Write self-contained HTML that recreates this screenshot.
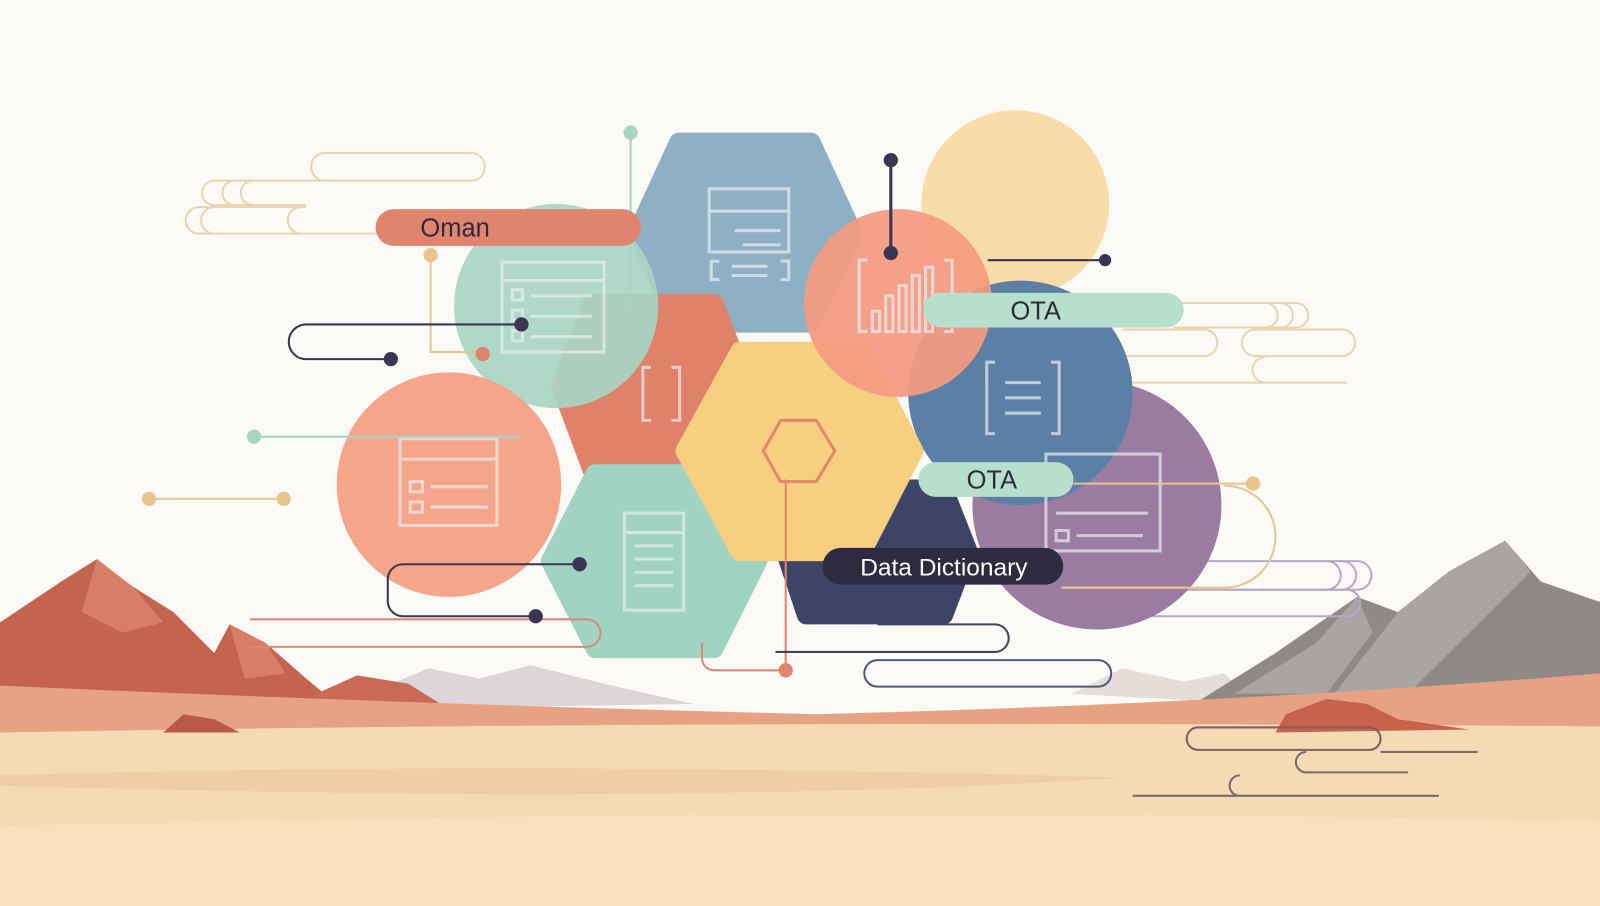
<!DOCTYPE html>
<html><head><meta charset="utf-8"><style>
html,body{margin:0;padding:0;background:#fbfaf7;}
svg{display:block}
text{font-family:"Liberation Sans",sans-serif;}
.hx{stroke-linejoin:round;stroke-width:18}
</style></head><body>
<svg width="1600" height="906" viewBox="0 0 1568 888" preserveAspectRatio="none" xmlns="http://www.w3.org/2000/svg">
<rect width="1568" height="888" fill="#fbfaf7"/>
<path d="M360 680 L420 655 L470 665 L520 652 L600 672 L680 690 L360 695Z" fill="#dcd5da"/>
<path d="M1050 680 L1100 655 L1160 668 L1200 660 L1230 690Z" fill="#e6ddd8"/>
<path d="M0 610 L60 570 L95 548 L130 575 L170 600 L210 640 L225 612 L260 630 L300 665 L330 690 L0 700Z" fill="#c4644f"/>
<path d="M95 548 L130 575 L160 610 L120 620 L80 600Z" fill="#d97e66"/>
<path d="M225 612 L260 630 L280 660 L240 665Z" fill="#d97e66"/>
<path d="M310 680 L350 662 L400 670 L440 695 L300 700Z" fill="#c86a55"/>
<path d="M1170 690 L1250 640 L1330 585 L1370 600 L1420 560 L1475 530 L1510 570 L1568 590 L1568 700Z" fill="#8f8a87"/>
<path d="M1370 600 L1420 560 L1475 530 L1500 560 L1440 620 L1380 680 L1300 690Z" fill="#a9a5a2"/>
<path d="M1210 680 L1290 630 L1330 585 L1345 620 L1300 680Z" fill="#a9a5a2"/>
<path d="M0 672 Q400 690 800 700 Q1200 690 1568 660 L1568 888 L0 888Z" fill="#e7a283"/>
<path d="M0 718 Q700 705 1568 712 L1568 888 L0 888Z" fill="#f5dbb5"/>
<path d="M0 760 Q500 745 1100 762 Q700 790 0 770Z" fill="#edc9a0" opacity=".7"/>
<path d="M0 810 Q800 790 1568 805 L1568 888 L0 888Z" fill="#f7e0bb"/>
<path d="M1260 700 L1300 685 L1340 690 L1370 705 L1440 715 L1250 718Z" fill="#c8624d"/>
<path d="M160 718 L180 700 L210 705 L235 718Z" fill="#b9594a"/>
<g fill="none" stroke="#edd2ad" stroke-width="2">
<rect x="305" y="150" width="170" height="27" rx="13"/>
<path d="M330 177 H210 a12 12 0 0 0 0 24 H300"/>
<path d="M230 177 a12 12 0 0 0 0 24"/><path d="M248 177 a12 12 0 0 0 0 24"/>
<path d="M300 203 H195 a13 13 0 0 0 0 26 H380"/>
<path d="M295 203 a13 13 0 0 0 0 26"/><path d="M210 203 a13 13 0 0 0 0 26"/>
</g>
<g fill="none" stroke="#edd2ad" stroke-width="2">
<path d="M1150 297 H1270 a12 12 0 0 1 0 24 H1150"/>
<path d="M1255 297 a12 12 0 0 1 0 24"/><path d="M1240 297 a12 12 0 0 1 0 24"/>
<path d="M1100 323 H1180 a13 13 0 0 1 0 26 H1100"/>
<path d="M1230 323 a13 13 0 0 0 0 26 H1315 a13 13 0 0 0 0 -26Z"/>
<path d="M1240 350 a12 12 0 0 0 0 25 H1320"/>
<path d="M1110 375 H1320"/>
</g>
<g fill="none" stroke="#b8a8c8" stroke-width="2">
<path d="M1160 550 H1330 a14 14 0 0 1 0 28 H1200"/>
<path d="M1300 550 a14 14 0 0 1 0 28"/><path d="M1315 550 a14 14 0 0 1 0 28"/>
<path d="M1080 578 H1320 a13 13 0 0 1 0 26 H1080 a13 13 0 0 1 0 -26"/>
</g>
<polygon class="hx" points="665,139 795,139 836,228 795,317 665,317 624,228" fill="#8fb0c3" stroke="#8fb0c3"/>
<polygon class="hx" points="580,297 700,297 731,378 700,461 580,461 549,378" fill="#e0826a" stroke="#e0826a"/>
<circle cx="545" cy="300" r="100" fill="#a8d5c3" opacity=".92"/>
<circle cx="440" cy="475" r="110" fill="#f4a58a"/>
<polygon class="hx" points="583,464 700,464 743,550 700,636 583,636 539,550" fill="#a1d3c2" stroke="#a1d3c2"/>
<circle cx="995" cy="200" r="92" fill="#f8dcaa"/>
<circle cx="1075" cy="495" r="122" fill="#9a7ca0"/>
<circle cx="1000" cy="385" r="110" fill="#5c7fa5"/>
<polygon class="hx" points="790,479 925,479 949,540 925,603 790,603 769,540" fill="#3e4466" stroke="#3e4466"/>
<polygon class="hx" points="725,344 845,344 896,442 845,541 725,541 671,442" fill="#f7cf80" stroke="#f7cf80"/>
<circle cx="880" cy="297" r="92" fill="#f49a80" opacity=".93"/>
<g fill="none" stroke="#e9eef2" stroke-width="3" opacity=".7">
<rect x="695" y="185" width="78" height="62"/><line x1="695" y1="207" x2="773" y2="207"/><line x1="720" y1="226" x2="765" y2="226"/><line x1="728" y1="240" x2="765" y2="240"/>
<path d="M705 256 h-8 v18 h8 M765 256 h8 v18 h-8 M717 261 h35 M717 270 h35"/>
<rect x="492" y="257" width="100" height="88"/><line x1="492" y1="275" x2="592" y2="275"/><rect x="502" y="284" width="10" height="10"/><line x1="520" y1="290" x2="580" y2="290"/><rect x="502" y="304" width="10" height="10"/><line x1="520" y1="310" x2="580" y2="310"/><rect x="502" y="324" width="10" height="10"/><line x1="520" y1="330" x2="580" y2="330"/>
<rect x="392" y="430" width="95" height="85"/><line x1="392" y1="450" x2="487" y2="450"/><rect x="402" y="472" width="12" height="10"/><line x1="422" y1="477" x2="478" y2="477"/><rect x="402" y="492" width="12" height="10"/><line x1="422" y1="497" x2="478" y2="497"/>
<rect x="612" y="503" width="58" height="95"/><line x1="612" y1="522" x2="670" y2="522"/><line x1="622" y1="535" x2="660" y2="535"/><line x1="622" y1="548" x2="660" y2="548"/><line x1="622" y1="561" x2="660" y2="561"/><line x1="622" y1="574" x2="660" y2="574"/>
<path d="M638 360 h-8 v52 h8 M658 360 h8 v52 h-8"/>
<path d="M850 255 h-8 v70 h8 M925 255 h8 v70 h-8"/>
<rect x="855" y="305" width="7" height="20"/><rect x="868" y="290" width="7" height="35"/><rect x="881" y="280" width="7" height="45"/><rect x="894" y="270" width="7" height="55"/><rect x="907" y="262" width="7" height="63"/>
<path d="M975 355 h-8 v70 h8 M1030 355 h8 v70 h-8 M985 375 h35 M985 390 h35 M985 405 h35"/>
<rect x="1025" y="445" width="112" height="95"/><line x1="1035" y1="503" x2="1125" y2="503"/><rect x="1035" y="520" width="12" height="10"/><line x1="1055" y1="525" x2="1120" y2="525"/>
</g>
<polygon points="765,412 800,412 818,442 800,472 765,472 748,442" fill="none" stroke="#e08a6a" stroke-width="3" stroke-linejoin="round"/>
<g fill="none" stroke-width="2">
<line x1="618" y1="130" x2="618" y2="300" stroke="#a8d5c3"/>
<line x1="873" y1="157" x2="873" y2="248" stroke="#3a3550" stroke-width="3"/>
<path d="M968 255 H1083" stroke="#3a3550"/>
<path d="M422 250 V345 H472" stroke="#e8c48e"/>
<path d="M511 318 H300 a17 17 0 0 0 0 34 H383" stroke="#3a3550"/>
<line x1="249" y1="428" x2="510" y2="428" stroke="#a8d5c3"/>
<line x1="146" y1="489" x2="278" y2="489" stroke="#e8c48e"/>
<path d="M568 553 H395 a15 15 0 0 0 -15 15 V590 a15 15 0 0 0 15 14 H525" stroke="#3a3550"/>
<path d="M245 607 H575 a13 13 0 0 1 0 27 H245" stroke="#d98a78"/>
<path d="M770 470 V657" stroke="#e08470"/>
<path d="M770 657 H700 a12 12 0 0 1 -12 -12 V630" stroke="#e08470"/>
<path d="M860 612 H975 a13 13 0 0 1 0 27 H760" stroke="#3e4466"/>
<rect x="847" y="647" width="242" height="26" rx="13" stroke="#4a5a80"/>
<path d="M1052 474 H1228" stroke="#e8c48e"/>
<path d="M1200 476 a35 35 0 0 1 0 100 H1040" stroke="#e8c48e"/>
<rect x="1163" y="713" width="190" height="22" rx="11" stroke="#7a6060"/>
<path d="M1353 737 H1448 M1280 737 a10 10 0 0 0 0 20 H1380 M1215 760 a10 10 0 0 0 0 20 H1410 M1110 780 H1300" stroke="#7a6a6a"/>
</g>
<g>
<circle cx="618" cy="130" r="7" fill="#a8d5c3"/>
<circle cx="873" cy="157" r="7" fill="#3a3550"/><circle cx="873" cy="248" r="7" fill="#3a3550"/>
<circle cx="1083" cy="255" r="6" fill="#3a3550"/>
<circle cx="422" cy="250" r="7" fill="#e8c48e"/><circle cx="473" cy="347" r="7" fill="#e08470"/>
<circle cx="511" cy="318" r="7" fill="#3a3550"/><circle cx="383" cy="352" r="7" fill="#3a3550"/>
<circle cx="249" cy="428" r="7" fill="#a8d5c3"/>
<circle cx="146" cy="489" r="7" fill="#e8c48e"/><circle cx="278" cy="489" r="7" fill="#e8c48e"/>
<circle cx="568" cy="553" r="7" fill="#3a3550"/><circle cx="525" cy="604" r="7" fill="#3a3550"/>
<circle cx="770" cy="657" r="7" fill="#e08470"/>
<circle cx="1228" cy="474" r="7" fill="#e8c48e"/>
</g>
<rect x="368" y="205" width="260" height="36" rx="18" fill="#e08470"/>
<text x="446" y="232" font-size="25" fill="#2e2a3a" text-anchor="middle">Oman</text>
<rect x="905" y="287" width="255" height="34" rx="17" fill="#b6dfcd"/>
<text x="1015" y="313" font-size="25" fill="#2e2a3a" text-anchor="middle">OTA</text>
<rect x="900" y="453" width="152" height="34" rx="17" fill="#b6dfcd"/>
<text x="972" y="479" font-size="25" fill="#2e2a3a" text-anchor="middle">OTA</text>
<rect x="806" y="537" width="236" height="36" rx="18" fill="#2d2b40"/>
<text x="925" y="564" font-size="24" fill="#ffffff" text-anchor="middle">Data Dictionary</text>
</svg>
</body></html>
